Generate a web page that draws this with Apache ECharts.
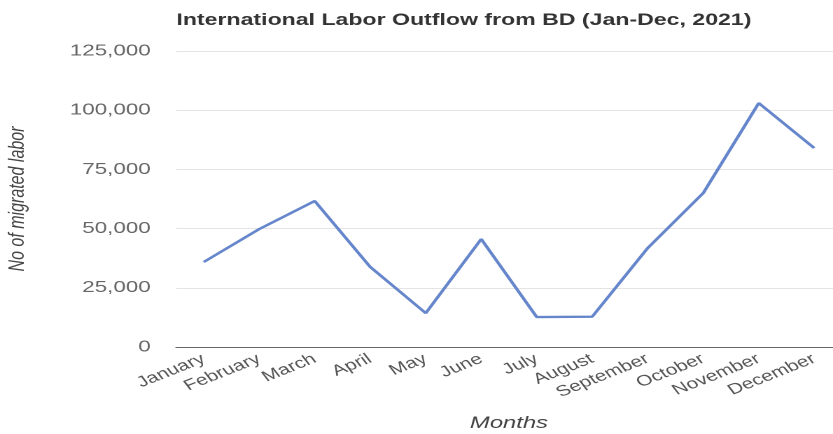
<!DOCTYPE html>
<html><head><meta charset="utf-8">
<script src="https://cdn.jsdelivr.net/npm/echarts@6/dist/echarts.min.js"></script>
<style>
html,body{margin:0;padding:0;background:#fff}
#wrap{width:833px;height:434px;overflow:hidden;position:relative}
#c{width:595px;height:434px;transform:scaleX(1.4);transform-origin:0 0}
</style>
</head><body><div id="wrap"><div id="c"></div></div>
<script>
const months = ["January","February","March","April","May","June","July","August","September","October","November","December"];
const outflow = [35900, 49800, 61650, 33800, 14300, 45600, 12650, 12800, 41800, 65000, 103000, 84000];
const yTicks = [0, 25000, 50000, 75000, 100000, 125000];
const chart = echarts.init(document.getElementById('c'), null, {devicePixelRatio: 2});
chart.setOption({
  animation: false,
  title: {text: 'International Labor Outflow from BD (Jan-Dec, 2021)', left: 121, top: 7,
    textStyle: {fontFamily: 'Liberation Sans', fontSize: 16.5, fontWeight: 'bold', color: '#333'}},
  grid: {left: 125.7, width: 475.7, top: 51, bottom: 87, containLabel: false, outerBoundsMode: 'none'},
  xAxis: {type: 'category', data: months, boundaryGap: true,
    name: 'Months', nameLocation: 'middle', nameGap: 68,
    nameTextStyle: {fontFamily: 'Liberation Sans', fontSize: 17, fontStyle: 'italic', color: '#444'},
    axisLine: {lineStyle: {color: '#666', width: 1}}, axisTick: {show: false},
    axisLabel: {rotate: 29, interval: 0, margin: 11, fontFamily: 'Liberation Sans', fontSize: 15, color: '#555'}},
  yAxis: {type: 'value', min: yTicks[0], max: yTicks[yTicks.length-1], interval: 25000,
    name: 'No of migrated labor', nameLocation: 'middle', nameGap: 105,
    nameTextStyle: {fontFamily: 'Liberation Sans', fontSize: 16, fontStyle: 'italic', color: '#444'},
    axisLine: {show: false}, axisTick: {show: false},
    axisLabel: {margin: 18, fontFamily: 'Liberation Sans', fontSize: 16, color: '#666',
      formatter: v => v.toLocaleString('en-US')},
    splitLine: {lineStyle: {color: '#e4e4e4', width: 1}}},
  series: [{type: 'line', data: outflow, showSymbol: false, symbol: 'none',
    lineStyle: {color: '#6686cc', width: 2.4}}]
});
</script></body></html>
